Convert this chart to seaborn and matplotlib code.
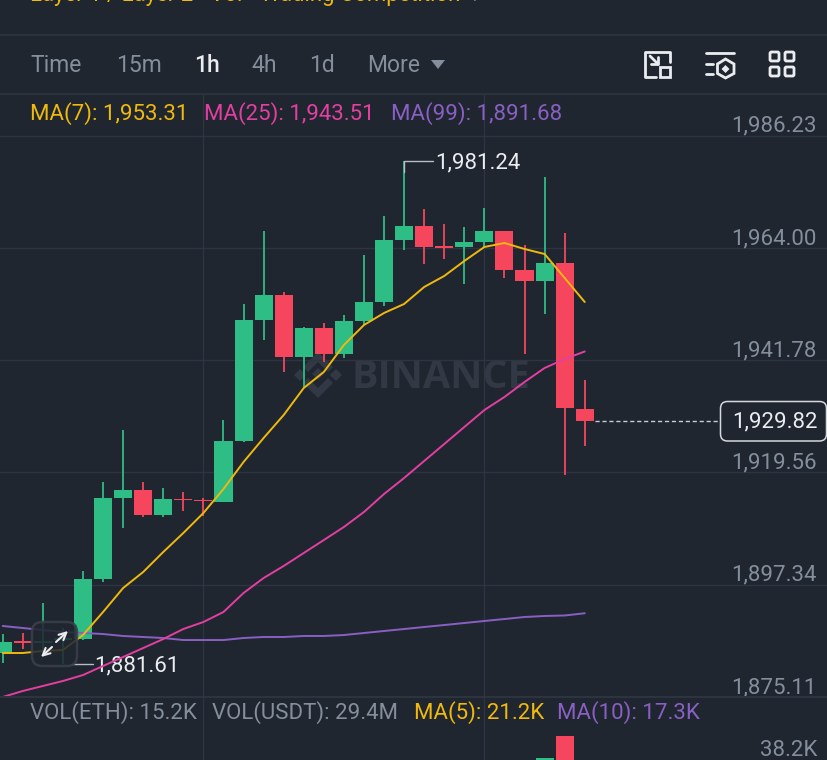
import matplotlib
matplotlib.use('Agg')
import matplotlib.pyplot as plt
from matplotlib.patches import FancyBboxPatch, Polygon, Rectangle
import numpy as np
import pandas as pd
import seaborn as sns

# candle data
opens = [1883.81, 1886.09, 1885.79, 1886.38, 1886.58, 1898.46, 1914.50, 1916.08, 1911.13, 1914.20,
         1914.01, 1913.71, 1925.79, 1949.74, 1954.69, 1942.42, 1948.16, 1943.01, 1949.55, 1953.31,
         1965.58, 1968.36, 1964.20, 1964.20, 1965.19, 1967.37, 1959.64, 1957.47, 1961.03, 1932.12]
closes = [1885.99, 1885.79, 1886.19, 1886.78, 1898.46, 1914.50, 1916.08, 1911.13, 1914.30, 1914.01,
          1913.81, 1925.79, 1949.74, 1954.69, 1942.42, 1948.16, 1943.01, 1949.55, 1953.31, 1965.58,
          1968.36, 1964.20, 1964.00, 1965.19, 1967.37, 1959.64, 1957.47, 1961.03, 1932.32, 1929.82]
highs = [1887.57, 1887.77, 1893.71, 1888.76, 1900.05, 1917.67, 1927.96, 1917.67, 1916.48, 1915.69,
         1914.50, 1929.94, 1952.91, 1967.37, 1955.29, 1948.36, 1949.15, 1950.73, 1962.61, 1970.34,
         1981.24, 1971.72, 1968.75, 1968.16, 1971.92, 1967.37, 1964.59, 1978.06, 1966.97, 1937.86]
lows = [1881.83, 1884.60, 1883.81, 1881.61, 1886.40, 1897.87, 1908.56, 1910.74, 1910.74, 1911.93,
        1910.94, 1913.71, 1925.60, 1945.78, 1939.45, 1936.48, 1941.43, 1942.22, 1948.75, 1952.52,
        1963.60, 1960.83, 1961.82, 1956.87, 1964.20, 1958.06, 1943.01, 1950.93, 1919.05, 1924.80]

ma7 = [1883.81, 1883.81, 1884.21, 1884.40, 1887.37, 1891.93, 1896.68, 1899.85, 1903.81, 1907.57,
       1911.53, 1916.28, 1921.63, 1926.38, 1930.93, 1936.28, 1939.45, 1944.79, 1948.75, 1951.13,
       1952.91, 1956.28, 1958.46, 1961.43, 1964.20, 1964.99, 1963.80, 1962.81, 1958.06, 1953.31]
ma25 = [1875.10, 1876.29, 1877.28, 1878.27, 1879.45, 1881.24, 1883.02, 1884.80, 1886.58, 1888.56,
        1889.95, 1891.93, 1895.69, 1898.66, 1901.04, 1903.61, 1906.18, 1908.76, 1911.73, 1915.29,
        1918.46, 1921.83, 1925.19, 1928.56, 1931.92, 1934.50, 1937.47, 1940.24, 1942.02, 1943.51]
ma99 = [1889.16, 1888.76, 1888.36, 1887.97, 1887.77, 1887.57, 1887.18, 1886.98, 1886.78, 1886.38,
        1886.38, 1886.38, 1886.78, 1886.98, 1886.98, 1887.18, 1887.18, 1887.37, 1887.77, 1888.17,
        1888.56, 1888.96, 1889.35, 1889.75, 1890.15, 1890.54, 1890.94, 1891.14, 1891.24, 1891.68]

# only the tops of these two volume bars are in frame
volumes = [0] * 27 + [33.0, 47.5, 0]

price_ticks = [1986.23, 1964.00, 1941.78, 1919.56, 1897.34, 1875.11]
time_grid = [10, 24]
tabs = ['Time', '15m', '1h', '4h', '1d', 'More']
last_price = 1929.82

BG = '#1F2630'
GRID = '#2E3440'
GREEN = '#2EBD85'
RED = '#F6465D'
YELLOW = '#F0B90B'
PINK = '#E33FA1'
PURPLE = '#8A5FC4'
GRAY = '#848E9C'
WHITE = '#EAECEF'

W, H = 828, 760
X0, STEP = 2.7, 20.07

sns.set_theme(style='dark')
plt.rcParams['font.family'] = ['Roboto', 'DejaVu Sans']

df = pd.DataFrame({'i': np.arange(len(opens)), 'open': opens, 'close': closes, 'high': highs, 'low': lows,
                   'ma7': ma7, 'ma25': ma25, 'ma99': ma99, 'vol': volumes})
df['up'] = df['close'] >= df['open']
df['color'] = np.where(df['up'], GREEN, RED)

fig = plt.figure(figsize=(W / 100, H / 100), dpi=100, facecolor=BG)


def panel(top, bottom, z):
    ax = fig.add_axes([0, 1 - bottom / H, 1, (bottom - top) / H], zorder=z)
    ax.patch.set_alpha(0)
    for s in ax.spines.values():
        s.set_visible(False)
    ax.set_xlim(-X0 / STEP, (W - X0) / STEP)
    ax.tick_params(left=False, bottom=False, labelleft=False, labelbottom=False)
    ax.grid(False)
    return ax


# background layer for the watermark, in pixel coords
bg = fig.add_axes([0, 0, 1, 1], zorder=0)
bg.set_xlim(0, W)
bg.set_ylim(H, 0)
bg.axis('off')
bg.text(352, 377, 'BINANCE', color='#323844', fontsize=28.5, fontweight='bold', va='center', family='Open Sans')
for pts in [[(-24, 0), (-18, -6), (-12, 0), (-18, 6)],
            [(24, 0), (18, -6), (12, 0), (18, 6)],
            [(-6, -1), (0, -7), (6, -1), (0, 5)],
            [(0, -23), (15, -8), (10, -3), (0, -13), (-10, -3), (-15, -8)],
            [(0, 23), (15, 8), (10, 3), (0, 13), (-10, 3), (-15, 8)]]:
    bg.add_patch(Polygon([(318 + a, 375 + b) for a, b in pts], color='#323844', lw=0))

# price panel
ax = panel(94, 697, 1)
ax.set_ylim(1875.10, 1994.49)
ax.hlines(price_ticks, -1, 60, color=GRID, lw=1, zorder=1)
for t in time_grid:
    ax.axvline(t, color=GRID, lw=1, zorder=1)

ax.vlines(df['i'], df['low'], df['high'], colors=df['color'], lw=1.3, zorder=2)
body_low = df[['open', 'close']].min(axis=1)
body_h = (df['close'] - df['open']).abs().clip(lower=0.35)
ax.bar(df['i'], body_h, bottom=body_low, width=0.9, color=df['color'], linewidth=0, zorder=3)

sns.lineplot(data=df, x='i', y='ma99', ax=ax, color=PURPLE, lw=1.4, zorder=4)
sns.lineplot(data=df, x='i', y='ma25', ax=ax, color=PINK, lw=1.4, zorder=4)
sns.lineplot(data=df, x='i', y='ma7', ax=ax, color=YELLOW, lw=1.4, zorder=5)
ax.set_xlabel('')
ax.set_ylabel('')
ax.set_xlim(-X0 / STEP, (W - X0) / STEP)
ax.set_ylim(1875.10, 1994.49)

for p in price_ticks:
    ax.annotate(f'{p:,.2f}', (817, p), xycoords=('figure pixels', 'data'), xytext=(0, 6.8), textcoords='offset points',
                ha='right', va='center', color=GRAY, fontsize=16)

# high / low callouts
ax.plot([20, 20, 21.45], [1979, 1981.24, 1981.24], color='#B7BDC6', lw=1, zorder=2)
ax.text(21.55, 1980.8, '1,981.24', color=WHITE, fontsize=16, va='center')
ax.plot([3.4, 4.5], [1881.61, 1881.61], color='#B7BDC6', lw=1, zorder=2)
ax.text(4.55, 1881.2, '1,881.61', color=WHITE, fontsize=16, va='center')

# last price dashed line
ax.hlines(last_price, 29.5, 35.7, color='#C8CCD2', lw=1, linestyles=(0, (3, 2)), zorder=2)

# volume panel
vax = panel(697, 760, 1)
vax.set_ylim(31.8, 72.8)
vax.bar(df['i'], df['vol'], width=0.9, color=df['color'], linewidth=0)
for t in time_grid:
    vax.axvline(t, color=GRID, lw=1, zorder=0)

# top layer: header, legends, icons
top = fig.add_axes([0, 0, 1, 1], zorder=3)
top.set_xlim(0, W)
top.set_ylim(H, 0)
top.axis('off')
top.patch.set_alpha(0)

top.hlines([35, 94], 0, W, color=GRID, lw=1.2)
top.hlines(697, 0, W, color=GRID, lw=1.4)
top.text(30, -4, 'Layer 1 / Layer 2 - Vol - Trading Competition', color=YELLOW, fontsize=15.9, va='center', clip_on=False)
top.text(472, -3, '›', color=GRAY, fontsize=14, va='center')

for name, x in zip(tabs, [30, 116, 194, 251, 309, 367]):
    top.text(x, 65, name, color=WHITE if name == '1h' else GRAY, fontsize=16.5,
             fontweight='medium' if name == '1h' else 'normal', va='center')
top.add_patch(Polygon([(431, 60), (445, 60), (438, 69)], color=GRAY, lw=0))

for s, c, x in [('MA(7): 1,953.31', YELLOW, 30), ('MA(25): 1,943.51', PINK, 204), ('MA(99): 1,891.68', PURPLE, 391)]:
    top.text(x, 114, s, color=c, fontsize=16, va='center')
for s, c, x in [('VOL(ETH): 15.2K', GRAY, 30), ('VOL(USDT): 29.4M', GRAY, 212),
                ('MA(5): 21.2K', YELLOW, 414), ('MA(10): 17.3K', PURPLE, 557)]:
    top.text(x, 713, s, color=c, fontsize=16, va='center')
top.text(817, 751, '38.2K', color=GRAY, fontsize=16, ha='right', va='center')

# current price tag
top.add_patch(FancyBboxPatch((720.5, 401.5), 106, 39.5, boxstyle='round,pad=0,rounding_size=7', fc=BG, ec='#D5D8DC',
                             lw=1.1))
top.text(774.5, 422, '1,929.82', color=WHITE, fontsize=16, ha='center', va='center')

# zoom button over the chart
top.add_patch(FancyBboxPatch((32, 622), 45, 44, boxstyle='round,pad=0,rounding_size=10', fc=BG, ec='#3A404C', lw=1.8,
                             alpha=0.85))
arrow = dict(arrowstyle='->', color=WHITE, lw=1.5, mutation_scale=13, shrinkA=0, shrinkB=0)
top.annotate('', (68, 631), (56, 642), arrowprops=arrow)
top.annotate('', (41, 657), (52, 647), arrowprops=arrow)

# toolbar icons
ic = dict(color=WHITE, lw=2, solid_capstyle='round')
top.plot([656, 645.5, 645.5, 670.5, 670.5], [77, 77, 51.5, 51.5, 62], **ic)
top.add_patch(Rectangle((660.5, 67), 10, 10, fill=False, ec=WHITE, lw=2))
top.plot([650, 658], [56, 64], **ic)
top.plot([651, 658, 658], [64, 64, 57], **ic)

top.plot([706, 734], [53, 53], **ic)
top.plot([706, 713], [64, 64], **ic)
top.plot([706, 713], [74, 74], **ic)
top.add_patch(Polygon([(725.5, 59), (734, 64), (734, 73.5), (725.5, 78), (717.5, 73.5), (717.5, 64)], fill=False,
                      ec=WHITE, lw=2))
top.add_patch(Polygon([(725.5, 65), (729.5, 69), (725.5, 73), (721.5, 69)], color=WHITE, lw=0))

for x, y in [(770, 52), (785, 52), (770, 67), (785, 67)]:
    top.add_patch(FancyBboxPatch((x, y), 9, 9, boxstyle='round,pad=0,rounding_size=1.5', fill=False, ec=WHITE, lw=2))

fig.savefig('out.png', dpi=100, facecolor=BG)
